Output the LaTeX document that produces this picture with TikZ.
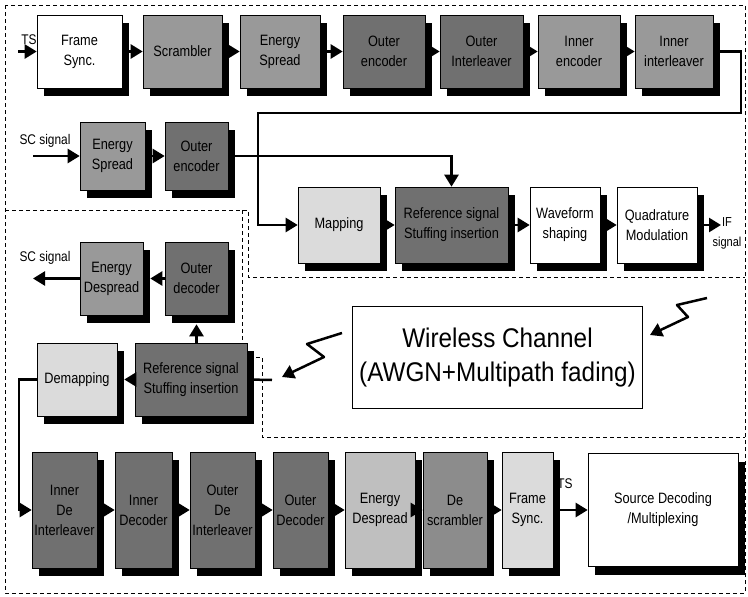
\documentclass[tikz,border=0pt]{standalone}
\usepackage{fontspec}
\setmainfont{Liberation Sans}
\newfontfamily\narrowsf{Liberation Sans}[FakeStretch=0.85]
\newfontfamily\chanfont{Liberation Sans}[FakeStretch=0.9]
\usepackage{tikz}
\usetikzlibrary{arrows.meta,shadows}

\begin{document}
\begin{tikzpicture}[x=1pt, y=-1pt,
  blk/.style={draw=black, line width=0.6pt, align=center, inner sep=1pt,
    font=\narrowsf\fontsize{15}{20}\selectfont,
    drop shadow={shadow xshift=7pt, shadow yshift=-8pt, fill=black, opacity=1}},
  wblk/.style={blk, fill=white},
  lblk/.style={blk, fill=black!14},
  mblk/.style={blk, fill=black!40},
  dblk/.style={blk, fill=black!56},
  arr/.style={-{Triangle[length=12pt, width=14pt]}, line width=2.5pt},
  wire/.style={line width=2.5pt},
  zone/.style={line width=0.7pt, dash pattern=on 4pt off 3pt},
  lab/.style={font=\narrowsf\fontsize{14}{20}\selectfont, inner sep=0pt, align=center}]
\useasboundingbox (0,0) rectangle (748,597);
% ---- dashed zones: transmitter, receiver front end, decoder chain ----
\draw[zone] (5,5) rectangle (745,593);
\draw[zone] (5,210) -- (248,210) -- (248,277) -- (745,277);
\draw[zone] (242,210) -- (242,357) -- (262,357) -- (262,437) -- (745,437);
% ---- transmitter: TS chain ----
\node[wblk, minimum width=85, minimum height=73] (fs) at (79.5,51.5) {Frame\\Sync.};
\node[mblk, minimum width=79, minimum height=73] (scr) at (182.5,51.5) {Scrambler};
\node[mblk, minimum width=80, minimum height=73] (esp) at (280,51.5) {Energy\\Spread};
\node[dblk, minimum width=82, minimum height=73] (oenc) at (384,51.5) {Outer\\encoder};
\node[dblk, minimum width=83, minimum height=73] (oint) at (481.5,51.5) {Outer\\Interleaver};
\node[mblk, minimum width=82, minimum height=73] (ienc) at (579,51.5) {Inner\\encoder};
\node[mblk, minimum width=78, minimum height=73] (iint) at (674,51.5) {Inner\\interleaver};
% ---- transmitter: SC chain ----
\node[mblk, minimum width=65, minimum height=68] (esp2) at (112.5,156) {Energy\\Spread};
\node[dblk, minimum width=63, minimum height=68] (oenc2) at (196.5,156) {Outer\\encoder};
% ---- transmitter: modulation ----
\node[lblk, minimum width=82, minimum height=76] (map) at (339,225) {Mapping};
\node[dblk, minimum width=113, minimum height=76] (reft) at (451.5,225) {Reference signal\\Stuffing insertion};
\node[wblk, minimum width=70, minimum height=76] (wave) at (565,225) {Waveform\\shaping};
\node[wblk, minimum width=80, minimum height=76] (quad) at (657,225) {Quadrature\\Modulation};
% channel
\node[draw=black, line width=0.6pt, fill=white, minimum width=290, minimum height=102,
  align=center, font=\chanfont\fontsize{27}{34}\selectfont] (chan) at (497.5,357.5)
  {Wireless Channel\\(AWGN+Multipath fading)};
% ---- receiver front end ----
\node[mblk, minimum width=63, minimum height=73] (edsp) at (111.5,278.5) {Energy\\Despread};
\node[dblk, minimum width=63, minimum height=73] (odec) at (196.5,278.5) {Outer\\decoder};
\node[lblk, minimum width=80, minimum height=73] (dmap) at (77,379.5) {Demapping};
\node[dblk, minimum width=112, minimum height=73] (refr) at (191,379.5) {Reference signal\\Stuffing insertion};
% ---- receiver: decoder chain ----
\node[dblk, minimum width=65, minimum height=116] (idi) at (64.5,510) {Inner\\De\\Interleaver};
\node[dblk, minimum width=57, minimum height=116] (idec) at (143.5,510) {Inner\\Decoder};
\node[dblk, minimum width=65, minimum height=116] (odi) at (222.5,510) {Outer\\De\\Interleaver};
\node[dblk, minimum width=55, minimum height=116] (odec2) at (300.5,510) {Outer\\Decoder};
\node[blk, fill=black!25, minimum width=70, minimum height=116] (edsp2) at (380,510) {Energy\\Despread};
\node[blk, fill=black!45, minimum width=64, minimum height=116] (dscr) at (455,510) {De\\scrambler};
\node[lblk, minimum width=51, minimum height=116] (fs2) at (527.5,510) {Frame\\Sync.};
\node[wblk, minimum width=150, minimum height=113] (src) at (663,510) {Source Decoding\\/Multiplexing};
% ---- connectors, transmitter ----
\coordinate (tsin) at (18,51.5);
\node[lab] (tslab) at (29,40) {TS};
\draw[arr] (tsin) -- (fs.west);
\foreach \a/\b in {fs/scr, scr/esp, esp/oenc, oenc/oint, oint/ienc, ienc/iint}
  \draw[arr] (\a) -- (\b);
\coordinate (c1) at (741,113);
\coordinate (c2) at (258,113);
\draw[arr] (iint.east) -- (iint.east -| c1) -- (c1) -- (c2) -- (c2 |- map) -- (map.west);
\coordinate (scin) at (33,156);
\node[lab] (sclab) at (45,141) {SC signal};
\draw[arr] (scin) -- (esp2.west);
\draw[arr] (esp2) -- (oenc2);
\draw[arr] (oenc2.east) -| (reft.north);
\foreach \a/\b in {map/reft, reft/wave, wave/quad}
  \draw[arr] (\a) -- (\b);
\coordinate (ifout) at (721,225);
\draw[arr] (quad.east) -- (ifout);
\node[lab, font=\narrowsf\fontsize{13}{20}\selectfont] (iflab) at (727,233) {IF\\signal};
% lightning to and from the channel
\draw[arr, line join=round] (707,298) -- (677,305) -- (688,317) -- (650,335);
\draw[arr, line join=round] (342,333) -- (307,344) -- (324,357) -- (282,377);
% ---- connectors, receiver ----
\coordinate (rxin) at (272,380);
\draw[wire] (rxin) -- (refr.east);
\draw[arr, shorten >=7pt] (refr) -- (dmap);
\draw[arr, shorten >=9pt] (refr.north -| odec) -- (odec.south);
\draw[arr, shorten >=7pt] (odec) -- (edsp);
\coordinate (scout) at (33,278.5);
\node[lab] (sclab2) at (45,258) {SC signal};
\draw[arr] (edsp.west) -- (scout);
\coordinate (c3) at (19,379.5);
\draw[arr] (dmap.west) -- (c3) |- (idi.west);
\foreach \a/\b in {idi/idec, idec/odi, odi/odec2, odec2/edsp2, edsp2/dscr, dscr/fs2, fs2/src}
  \draw[arr] (\a) -- (\b);
\node[lab] (tslab2) at (565,484) {TS};
\end{tikzpicture}
\end{document}
